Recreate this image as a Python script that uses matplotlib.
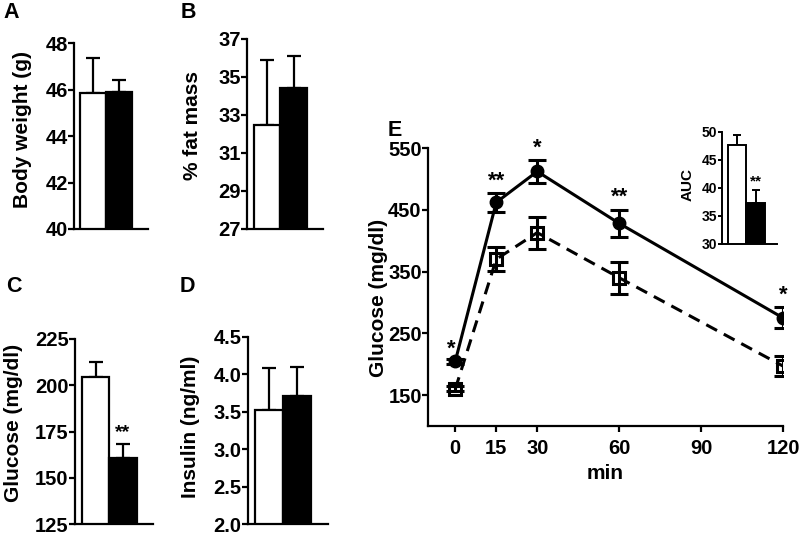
import matplotlib
matplotlib.use("Agg")
import matplotlib.pyplot as plt

plt.rcParams['font.family'] = ['Liberation Sans', 'DejaVu Sans']
plt.rcParams['font.weight'] = 'bold'

# bar panels: (control, treated) means and SEM
bw_mean = [45.85, 45.9]
bw_err = [1.5, 0.5]
fat_mean = [32.45, 34.4]
fat_err = [3.45, 1.7]
glc_mean = [204.5, 160.5]
glc_err = [8.0, 7.5]
ins_mean = [3.52, 3.71]
ins_err = [0.56, 0.39]
auc_mean = [47.6, 37.4]
auc_err = [1.8, 2.2]

# glucose tolerance test
times = [0, 15, 30, 60, 120]
gtt_filled = [205, 462, 512, 428, 275]
gtt_filled_err = [4, 15, 18, 22, 17]
gtt_open = [160, 370, 413, 340, 197]
gtt_open_err = [4, 19, 26, 26, 16]
stars_filled = ['*', '**', '*', '**', '*']

W, H = 800, 535
fig = plt.figure(figsize=(8, 5.35), dpi=100)


def add_ax(x0, y0, x1, y1):
    # pixel box -> figure fraction
    return fig.add_axes([x0 / W, 1 - y1 / H, (x1 - x0) / W, (y1 - y0) / H])


def style(ax, fs=14.5, lw=1.6):
    for s in ['top', 'right']:
        ax.spines[s].set_visible(False)
    for s in ['left', 'bottom']:
        ax.spines[s].set_linewidth(lw)
    ax.tick_params(axis='y', width=lw, length=4, labelsize=fs, pad=0.5)
    ax.tick_params(axis='both', labelsize=fs)
    for lab in ax.get_yticklabels() + ax.get_xticklabels():
        lab.set_fontweight('bold')


def bar_panel(ax, means, errs, ylim, ticks, fs=14.5, lw=1.6, cap=5):
    ax.bar([1, 2], means, width=1.0, color=['white', 'black'],
           edgecolor='black', linewidth=lw, zorder=2)
    ax.errorbar([1, 2], means, yerr=[[0, 0], errs], fmt='none', ecolor='black',
                elinewidth=lw, capsize=cap, capthick=lw, zorder=1)
    ax.set_xlim(0.25, 3.1)
    ax.set_ylim(*ylim)
    ax.set_yticks(ticks)
    ax.set_xticks([])
    style(ax, fs, lw)


axA = add_ax(74, 43, 148, 229)
bar_panel(axA, bw_mean, bw_err, (40, 48), [40, 42, 44, 46, 48])
axB = add_ax(247, 39, 323, 229)
bar_panel(axB, fat_mean, fat_err, (27, 37), [27, 29, 31, 33, 35, 37])
axC = add_ax(75, 339, 153, 524)
bar_panel(axC, glc_mean, glc_err, (125, 225), [125, 150, 175, 200, 225])
axC.text(2, glc_mean[1] + glc_err[1] + 2, '**', ha='center', va='bottom', fontsize=14, fontweight='bold')
axD = add_ax(248, 337, 328, 524)
bar_panel(axD, ins_mean, ins_err, (2.0, 4.5), [2.0, 2.5, 3.0, 3.5, 4.0, 4.5])
axD.yaxis.set_major_formatter(matplotlib.ticker.FormatStrFormatter('%.1f'))
for lab in axD.get_yticklabels():
    lab.set_fontweight('bold')

# panel E
axE = add_ax(428, 148, 783, 426)
axE.errorbar(times, gtt_open, yerr=gtt_open_err, color='black', linewidth=2.2,
             dashes=(4, 2.5), marker='s', markersize=9, markerfacecolor='none',
             markeredgewidth=2.2, elinewidth=2.2, capsize=6.5, capthick=2.2, zorder=2)
axE.errorbar(times, gtt_filled, yerr=gtt_filled_err, color='black', linewidth=2.2,
             marker='o', markersize=9, elinewidth=2.2, capsize=6.5, capthick=2.2, zorder=3)
for t, v, e, s in zip(times, gtt_filled, gtt_filled_err, stars_filled):
    yoff = e if t != 0 else 0
    axE.text(t if t != 0 else -1.5, v + yoff + 3, s, ha='center', va='bottom',
             fontsize=16, fontweight='bold')
axE.set_xlim(-10, 120)
axE.set_ylim(100, 550)
axE.set_xticks([0, 15, 30, 60, 90, 120])
axE.set_yticks([150, 250, 350, 450, 550])
style(axE, fs=14.5, lw=1.6)
axE.tick_params(axis='x', width=1.6, length=4, pad=5)
axE.set_xlabel('min', fontsize=15, fontweight='bold', labelpad=5)

# inset AUC
axI = add_ax(722, 132, 777, 244)
bar_panel(axI, auc_mean, auc_err, (30, 50), [30, 35, 40, 45, 50], fs=10, lw=1.4, cap=3)
axI.set_xlim(0.18, 3.15)
axI.tick_params(axis='y', length=3)
axI.text(2, auc_mean[1] + auc_err[1] + 0.3, '**', ha='center', va='bottom', fontsize=11, fontweight='bold')

# y labels
fig.text(23 / W, 1 - 130 / H, 'Body weight (g)', rotation=90, ha='center', va='center', fontsize=15, fontweight='bold')
fig.text(193 / W, 1 - 126 / H, '% fat mass', rotation=90, ha='center', va='center', fontsize=15, fontweight='bold')
fig.text(14 / W, 1 - 423 / H, 'Glucose (mg/dl)', rotation=90, ha='center', va='center', fontsize=15, fontweight='bold')
fig.text(191 / W, 1 - 427 / H, 'Insulin (ng/ml)', rotation=90, ha='center', va='center', fontsize=15, fontweight='bold')
fig.text(379 / W, 1 - 298 / H, 'Glucose (mg/dl)', rotation=90, ha='center', va='center', fontsize=15, fontweight='bold')
fig.text(688 / W, 1 - 185 / H, 'AUC', rotation=90, ha='center', va='center', fontsize=11, fontweight='bold')

# panel letters
for lbl, x, y in [('A', 3, 12), ('B', 181, 12), ('C', 6, 287), ('D', 180, 287), ('E', 388, 130)]:
    fig.text(x / W, 1 - y / H, lbl, ha='left', va='center', fontsize=15.5, fontweight='bold')

fig.savefig('out.png', dpi=100)
